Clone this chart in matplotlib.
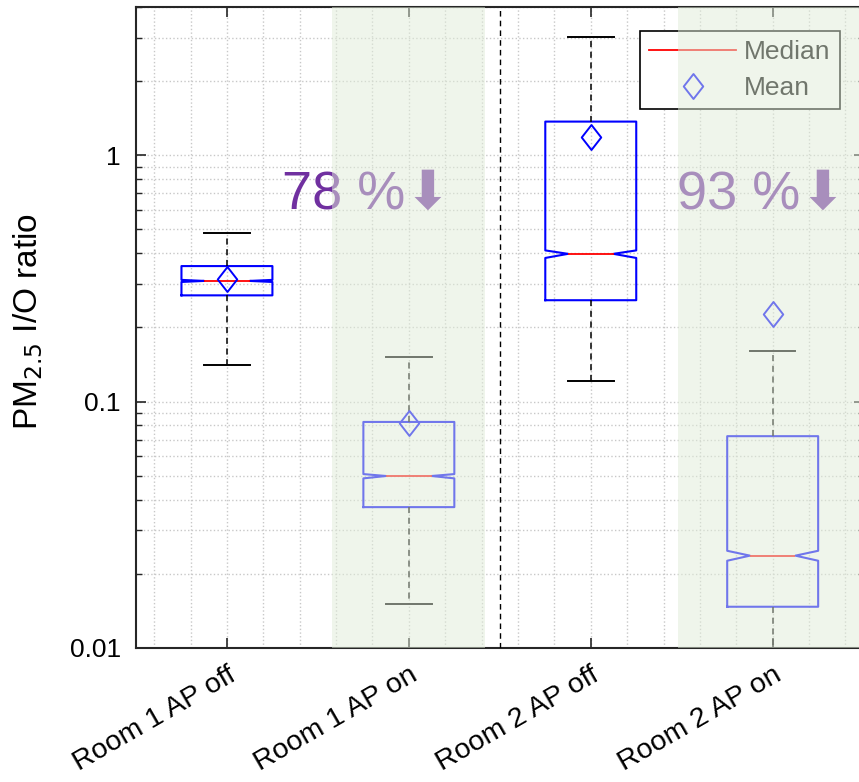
import matplotlib
matplotlib.use("Agg")
import matplotlib.pyplot as plt
from matplotlib.ticker import LogLocator, MultipleLocator, FixedLocator, NullFormatter
from matplotlib.path import Path

plt.rcParams['font.family'] = ['Liberation Sans', 'DejaVu Sans']

# values (PM2.5 I/O ratio)
labels = ['Room 1 AP off', 'Room 1 AP on', 'Room 2 AP off', 'Room 2 AP on']
q1 = [0.270, 0.0373, 0.258, 0.0147]
med = [0.309, 0.0499, 0.398, 0.0237]
q3 = [0.355, 0.0827, 1.37, 0.0724]
whislo = [0.141, 0.0151, 0.1215, 0.008]
whishi = [0.484, 0.152, 3.02, 0.161]
means = [0.316, 0.0817, 1.19, 0.227]
cilo = [0.306, 0.0488, 0.383, 0.0226]
cihi = [0.312, 0.0508, 0.411, 0.0248]
reductions = ['78 %', '93 %']

stats = []
for i, lab in enumerate(labels):
    stats.append(dict(label=lab, q1=q1[i], med=med[i], q3=q3[i], whislo=whislo[i],
                      whishi=whishi[i], mean=means[i], cilo=cilo[i], cihi=cihi[i],
                      fliers=[]))

diamond = Path([(0, 1), (0.78, 0), (0, -1), (-0.78, 0), (0, 1)],
               [Path.MOVETO, Path.LINETO, Path.LINETO, Path.LINETO, Path.CLOSEPOLY])

fig = plt.figure(figsize=(8.59, 7.82), dpi=100)
ax = fig.add_axes([0.1583, 0.1714, 0.8471, 0.8197])

edge = '#262626'
ax.bxp(stats, positions=[1, 2, 3, 4], widths=0.5, capwidths=0.25,
       shownotches=True, showmeans=True, showfliers=False,
       boxprops=dict(color='#0000ff', lw=1.5),
       whiskerprops=dict(color='black', lw=1.1, ls=(0, (4, 3))),
       capprops=dict(color='black', lw=1.4),
       medianprops=dict(color='#ff0000', lw=1.3),
       meanprops=dict(marker=diamond, markersize=18, markerfacecolor='none',
                      markeredgecolor='#0000ff', markeredgewidth=1.4))

ax.set_yscale('log')
ax.set_ylim(0.01, 4)
ax.set_xlim(0.5, 4.5)

ax.axvline(2.5, color='black', lw=1.0, ls=(0, (4, 3)), zorder=3)

# grid
ax.yaxis.set_major_locator(FixedLocator([0.01, 0.1, 1]))
ax.yaxis.set_major_formatter(plt.FuncFormatter(lambda v, p: '%g' % v))
ax.yaxis.set_minor_locator(LogLocator(base=10, subs=range(2, 10)))
ax.yaxis.set_minor_formatter(NullFormatter())
ax.xaxis.set_minor_locator(MultipleLocator(0.2))
ax.grid(True, which='both', color='#c8c8c8', ls=':', lw=1.0, zorder=0)
ax.set_axisbelow(True)

ax.set_xticks([1, 2, 3, 4])
ax.set_xticklabels(labels, rotation=30, ha='right', va='top', rotation_mode='anchor')
ax.tick_params(axis='both', which='both', direction='in', top=True, right=True,
               colors=edge, labelcolor='black', labelsize=19)
ax.tick_params(axis='x', labelsize=20.5)
ax.tick_params(axis='both', which='major', length=7, width=1.2)
ax.tick_params(axis='y', which='minor', length=4, width=1.0)
ax.tick_params(axis='x', which='minor', length=0)
ax.tick_params(axis='y', pad=11)
ax.tick_params(axis='x', pad=10)
for s in ax.spines.values():
    s.set_color(edge)
    s.set_linewidth(1.5)

ax.set_ylabel('PM$_{2.5}$ I/O ratio', fontsize=24)
ax.yaxis.set_label_coords(-0.125, 0.51)

# reduction annotations
ax.text(1.305, 0.69, reductions[0] + '\u2b07', color='#7030a0', fontsize=39,
        ha='left', va='center', zorder=4)
ax.text(3.474, 0.69, reductions[1] + '\u2b07', color='#7030a0', fontsize=39,
        ha='left', va='center', zorder=4)

# legend
h_med = plt.Line2D([], [], color='#ff0000', lw=1.3)
h_mean = plt.Line2D([], [], ls='none', marker=diamond, markersize=18,
                    markerfacecolor='none', markeredgecolor='#0000ff', markeredgewidth=1.4)
leg = ax.legend([h_med, h_mean], ['Median', 'Mean'], loc='upper right', fontsize=19,
                fancybox=False, edgecolor='black', framealpha=1, handlelength=3.3,
                handletextpad=0.3, borderaxespad=0.9, labelspacing=0.45, borderpad=0.35)
leg.get_frame().set_linewidth(1.2)

# green shading laid over the "AP on" groups
ax.axvspan(1.58, 2.42, color='#e1edd9', alpha=0.5, lw=0, zorder=10)
ax.axvspan(3.48, 4.5, color='#e1edd9', alpha=0.5, lw=0, zorder=10)

fig.savefig('out.png', dpi=100)
